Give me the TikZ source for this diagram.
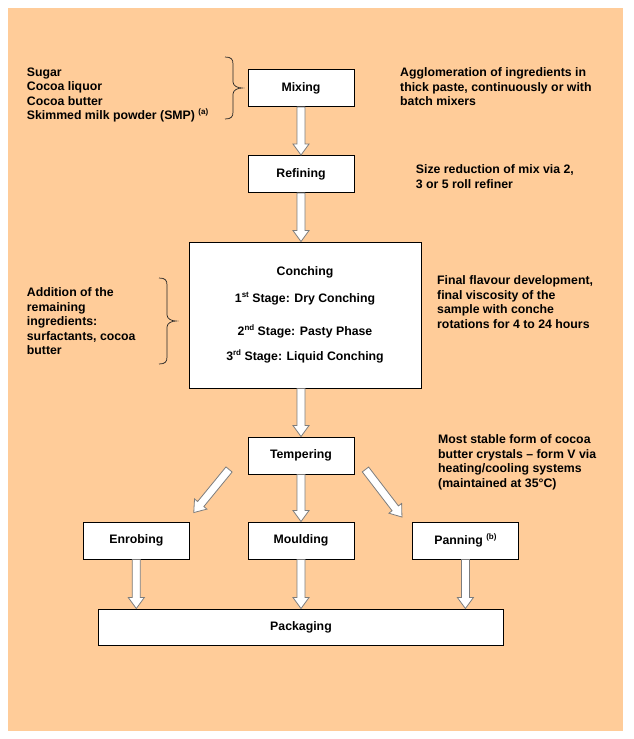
\documentclass[tikz,border=0pt]{standalone}
\usepackage{fontspec}
\setmainfont{Liberation Sans}
\usetikzlibrary{calc}
\definecolor{peach}{RGB}{255,204,153}
\definecolor{arrowgray}{RGB}{125,125,125}
\newcommand\supx[1]{\raisebox{5pt}{\fontsize{8}{8}\selectfont #1}}
\newcommand\mybrace[4]{%
  \draw[bracestyle] (#1,#2) .. controls ({#1+6},#2) and ({#1+8},{#2+2}) .. ({#1+8},{#2+7})
    -- ({#1+8},{#4-6}) .. controls ({#1+8},{#4-2}) and ({#1+13},#4) .. ({#1+17},#4)
    .. controls ({#1+13},#4) and ({#1+8},{#4+2}) .. ({#1+8},{#4+6})
    -- ({#1+8},{#3-7}) .. controls ({#1+8},{#3-2}) and ({#1+6},#3) .. (#1,#3);}
\begin{document}
\begin{tikzpicture}[x=1pt,y=-1pt,
  txt/.style={font=\bfseries\fontsize{12.3}{14.6}\selectfont},
  stepbox/.style={txt, draw=black, fill=white, line width=0.9pt, minimum width=106pt, minimum height=37pt, inner sep=0pt, align=center},
  note/.style={txt, anchor=north west, inner sep=0pt, align=left},
  bracestyle/.style={draw=black!85, line width=0.7pt},
  blockarrow/.style={draw=arrowgray, fill=white, line width=0.8pt, line join=miter,
    to path={let \p1=($(\tikztotarget)!11pt!(\tikztostart)$) in
      ($(\tikztostart)!4pt!90:(\tikztotarget)$) -- ($(\p1)!4pt!90:(\tikztotarget)$)
      -- ($(\p1)!8pt!90:(\tikztotarget)$) -- (\tikztotarget)
      -- ($(\p1)!8pt!-90:(\tikztotarget)$) -- ($(\p1)!4pt!-90:(\tikztotarget)$)
      -- ($(\tikztostart)!4pt!-90:(\tikztotarget)$) -- cycle}}]
\useasboundingbox (0,0) rectangle (634,739);
\fill[peach] (8,8) rectangle (622.5,731);

% process boxes
\node[stepbox] (mix) at (301,88) {Mixing};
\node[stepbox] (ref) at (301,174) {Refining};
\node[stepbox, minimum width=232pt, minimum height=146pt] (con) at (305,315)
  {Conching\\[12.4pt]
   1\supx{st} Stage: Dry Conching\\[18.4pt]
   2\supx{nd} Stage: Pasty Phase\\[10.4pt]
   3\supx{rd} Stage: Liquid Conching};
\node[stepbox] (tem) at (301,455.5) {Tempering};
\node[stepbox] (enr) at (136.3,540.5) {Enrobing};
\node[stepbox] (mou) at (301,540.5) {Moulding};
\node[stepbox] (pan) at (465.4,540.5) {Panning \supx{(b)}};
\node[stepbox, minimum width=404.5pt, minimum height=36pt] (pac) at (301,627) {Packaging};

% side notes
\node[note] (ingr) at (26.7,67.4) {Sugar\\Cocoa liquor\\Cocoa butter\\Skimmed milk powder (SMP) \supx{(a)}};
\node[note] (aggl) at (400,67.4) {Agglomeration of ingredients in\\thick paste, continuously or with\\batch mixers};
\node[note] (size) at (415.7,164.4) {Size reduction of mix via 2,\\3 or 5 roll refiner};
\node[note] (addi) at (26.7,287.4) {Addition of the\\remaining\\ingredients:\\surfactants, cocoa\\butter};
\node[note] (flav) at (437,275.4) {Final flavour development,\\final viscosity of the\\sample with conche\\rotations for 4 to 24 hours};
\node[note] (stab) at (438,434.4) {Most stable form of cocoa\\butter crystals -- form V via\\heating/cooling systems\\(maintained at 35°C)};

% braces
\mybrace{225}{57}{119}{88}
\mybrace{159}{278}{364}{321}

% arrows
\coordinate (tl) at ($(tem.south west)+(-18.5,-5)$);
\coordinate (el) at ($(enr.north east)+(4,-9)$);
\coordinate (tr) at ($(tem.south east)+(11,-5)$);
\coordinate (pr) at ($(pan.north west)+(-10,-4.5)$);
\draw[blockarrow] (mix.south) to (ref.north);
\draw[blockarrow] (ref.south) to (ref.south |- con.north);
\draw[blockarrow] (tem.north |- con.south) to (tem.north);
\draw[blockarrow] (tem.south) to (mou.north);
\draw[blockarrow] (tl) to (el);
\draw[blockarrow] (tr) to (pr);
\draw[blockarrow] (enr.south) to (enr.south |- pac.north);
\draw[blockarrow] (mou.south) to (mou.south |- pac.north);
\draw[blockarrow] (pan.south) to (pan.south |- pac.north);
\end{tikzpicture}
\end{document}
